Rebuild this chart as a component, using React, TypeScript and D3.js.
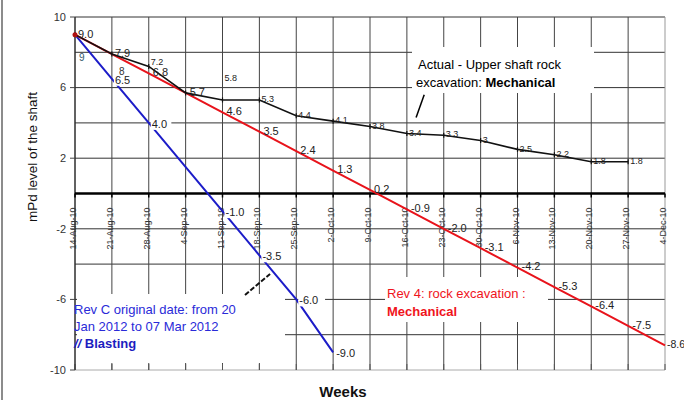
import React from 'react';
import * as d3 from 'd3';

const weeks = [
  '14-Aug-10', '21-Aug-10', '28-Aug-10', '4-Sep-10', '11-Sep-10', '18-Sep-10',
  '25-Sep-10', '2-Oct-10', '9-Oct-10', '16-Oct-10', '23-Oct-10', '30-Oct-10',
  '6-Nov-10', '13-Nov-10', '20-Nov-10', '27-Nov-10', '4-Dec-10',
];

const yTicks = [10, 6, 2, -2, -6, -10];

// Actual - upper shaft, mechanical
const actualValues = [9.0, 7.9, 7.2, 5.7, 5.3, 5.3, 4.4, 4.1, 3.8, 3.4, 3.3, 3.0, 2.5, 2.2, 1.8, 1.8];
const actualLabels = ['9.0', '7.9', '7.2', '5.7', '5.8', '5.3', '4.4', '4.1', '3.8', '3.4', '3.3', '3', '2.5', '2.2', '1.8', '1.8'];

// Rev 4 - mechanical
const rev4Values = [9.0, 7.9, 6.8, 5.7, 4.6, 3.5, 2.4, 1.3, 0.2, -0.9, -2.0, -3.1, -4.2, -5.3, -6.4, -7.5, -8.6];

// Rev C - blasting
const revCWeeks = [0, 1, 2, 4, 5, 6, 7];
const revCValues = [9.0, 6.5, 4.0, -1.0, -3.5, -6.0, -9.0];

const W = 684;
const H = 400;
const FONT = '"Liberation Sans", Arial, sans-serif';

const App: React.FC = () => {
  const x = d3.scaleLinear().domain([0, weeks.length - 1]).range([75, 665]);
  const y = d3.scaleLinear().domain([-10, 10]).range([370, 17]);
  const gridY = d3.range(-10, 10.01, 2);

  const line = d3.line<[number, number]>().x(d => x(d[0])).y(d => y(d[1]));
  const actualPath = line(actualValues.map((v, i) => [i, v] as [number, number])) || '';
  const rev4Path = line(rev4Values.map((v, i) => [i, v] as [number, number])) || '';
  const revCPath = line(revCValues.map((v, i) => [revCWeeks[i], v] as [number, number])) || '';

  return (
    <svg width={W} height={H} viewBox={`0 0 ${W} ${H}`}
      style={{ position: 'absolute', left: 0, top: 0, background: '#fff', fontFamily: FONT }}>
      <line x1={2} x2={2} y1={0} y2={H} stroke="#666" strokeWidth={1.5} />

      {/* grid */}
      {gridY.map(v => (
        <line key={'h' + v} x1={x(0)} x2={x(16)} y1={y(v)} y2={y(v)}
          stroke={v === -10 ? '#aaa' : '#333'} strokeWidth={1} />
      ))}
      {weeks.map((w, i) => (
        <line key={'v' + w} x1={x(i)} x2={x(i)} y1={y(10)} y2={y(-10)}
          stroke={i === 16 ? '#999' : '#444'} strokeWidth={1} />
      ))}

      {/* white boxes behind annotations */}
      <rect x={412} y={47} width={182} height={46} fill="#fff" />
      <rect x={385} y={277} width={163} height={45} fill="#fff" />
      <rect x={77} y={294} width={208} height={69} fill="#fff" />
      {weeks.map((w, i) => (
        <line key={'bt' + w} x1={x(i)} x2={x(i)} y1={y(-10) - 6} y2={y(-10)} stroke="#555" strokeWidth={1} />
      ))}

      {/* y axis */}
      <line x1={x(0)} x2={x(0)} y1={y(10)} y2={y(-10)} stroke="#222" strokeWidth={1} />
      {yTicks.map(t => (
        <g key={'yt' + t}>
          <line x1={x(0) - 5} x2={x(0)} y1={y(t)} y2={y(t)} stroke="#444" />
          <text x={x(0) - 9} y={y(t)} dy="0.35em" textAnchor="end" fontSize={11} fill="#333">{t}</text>
        </g>
      ))}

      {/* x axis at zero */}
      <line x1={x(0)} x2={x(16)} y1={y(0)} y2={y(0)} stroke="#000" strokeWidth={2.5} />
      {weeks.map((w, i) => (
        <g key={'xt' + w}>
          <line x1={x(i)} x2={x(i)} y1={y(0)} y2={y(0) + 4} stroke="#000" strokeWidth={1.5} />
          <text transform={`translate(${x(i) + 1},${y(0) + 14}) rotate(-90)`} textAnchor="end"
            fontSize={9} fill="#333">{w}</text>
        </g>
      ))}

      {/* series */}
      <path d={revCPath} fill="none" stroke="#1c1cc8" strokeWidth={2} />
      <path d={rev4Path} fill="none" stroke="#e8131b" strokeWidth={2} />
      <path d={actualPath} fill="none" stroke="#111" strokeWidth={1.6} />
      {actualValues.map((v, i) => (
        <line key={'am' + i} x1={x(i)} x2={x(i)} y1={y(v) - 2.5} y2={y(v) + 2.5} stroke="#111" strokeWidth={1.2} />
      ))}
      <circle cx={x(0)} cy={y(9)} r={2.5} fill="#b01010" />

      {/* Rev C labels with white backing */}
      {revCValues.slice(1).map((v, k) => {
        const i = revCWeeks[k + 1];
        const s = v.toFixed(1);
        const wTxt = s.length * 6.2;
        return (
          <g key={'cl' + i}>
            <rect x={x(i) + 2} y={y(v) - 6} width={wTxt + 2} height={13} fill="#fff" />
            <text x={x(i) + 3} y={y(v) + 1} dy="0.35em" fontSize={11} fill="#222">{s}</text>
          </g>
        );
      })}
      <text x={x(0) + 4} y={y(7.7)} dy="0.35em" fontSize={10} fill="#335a6a">9</text>
      <text x={x(1) + 7} y={y(6.9)} dy="0.35em" fontSize={10} fill="#333">8</text>

      {/* Rev 4 labels */}
      {rev4Values.map((v, i) => (
        <text key={'rl' + i} x={x(i) + (i < 2 ? 3 : i === 16 ? 2 : 4)} y={y(v) - 1} dy="0.35em"
          fontSize={i === 16 ? 10.5 : 11} fill="#222">{v.toFixed(1)}</text>
      ))}

      {/* Actual labels */}
      {actualValues.map((v, i) => (i === 0 || i === 1 || i === 3) ? null : (
        <text key={'al' + i} x={x(i) + 2} y={y(v) - (i === 4 ? 22 : i === 2 ? 5 : 1)} dy="0.35em"
          fontSize={9} fill="#222">{actualLabels[i]}</text>
      ))}

      {/* annotations */}
      <line x1={x(9.25)} y1={y(4.3)} x2={x(9.47)} y2={y(5.6)} stroke="#000" strokeWidth={1.5} />
      <text x={418} y={64} dy="0.35em" fontSize={13} fill="#000">Actual - Upper shaft rock</text>
      <text x={416} y={82} dy="0.35em" fontSize={13} fill="#000">
        excavation: <tspan fontWeight="bold">Mechanical</tspan>
      </text>

      <text x={387} y={293} dy="0.35em" fontSize={13} fill="#f0141c">Rev 4: rock excavation :</text>
      <text x={387} y={311} dy="0.35em" fontSize={13} fontWeight="bold" fill="#f0141c">Mechanical</text>

      <line x1={x(4.61)} y1={y(-5.75)} x2={x(5.29)} y2={y(-4.56)} stroke="#111" strokeWidth={2} strokeDasharray="5,2" />
      <text x={74} y={309} dy="0.35em" fontSize={13} fill="#2a2ad8">Rev C original date: from 20</text>
      <text x={74} y={326} dy="0.35em" fontSize={13} fill="#2a2ad8">Jan 2012 to 07 Mar 2012</text>
      <text x={74} y={343} dy="0.35em" fontSize={13} fontWeight="bold" fill="#1c1cc0">
        <tspan fontStyle="italic">//</tspan>  Blasting
      </text>

      {/* axis titles */}
      <text transform="translate(37,157) rotate(-90)" textAnchor="middle" fontSize={13.5} fill="#111">
        mPd  level of the shaft
      </text>
      <text x={343} y={397} textAnchor="middle" fontSize={15} fontWeight="bold" fill="#111">Weeks</text>
    </svg>
  );
};

export default App;
